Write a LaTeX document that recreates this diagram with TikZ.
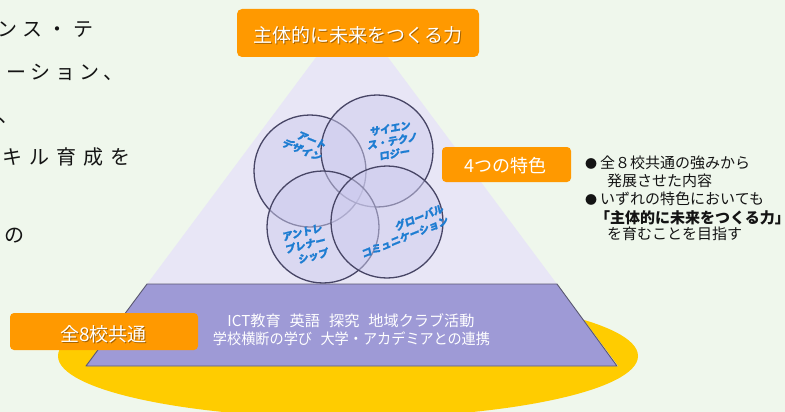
\documentclass[tikz,border=0pt]{standalone}
\usepackage{fontspec}
\setmainfont{Noto Sans CJK JP}
\newfontfamily\circfont{Noto Sans CJK JP}[FakeSlant=0.15, FakeBold=1.2]
\definecolor{bg}{RGB}{239,247,236}
\definecolor{orng}{RGB}{255,153,0}
\definecolor{pyr}{RGB}{232,230,246}
\definecolor{basecol}{RGB}{158,154,214}
\definecolor{edgecol}{RGB}{90,88,112}
\definecolor{ylw}{RGB}{255,204,0}
\definecolor{glassin}{RGB}{206,204,238}
\definecolor{glassout}{RGB}{128,124,192}
\definecolor{circline}{RGB}{72,70,102}
\definecolor{circtext}{RGB}{30,125,210}
\definecolor{txt}{RGB}{20,20,20}
\pgfdeclareradialshading{glass}{\pgfpointorigin}{color(0bp)=(glassin); color(32bp)=(glassin); color(49bp)=(glassout); color(50bp)=(glassout); color(100bp)=(glassout)}
\tikzset{
  obox/.style={fill=orng, rounded corners=5pt, inner sep=0pt, draw=none},
  ring/.style={circle, minimum size=112pt, inner sep=0pt, shading=glass, fill opacity=0.5,
               draw=circline, draw opacity=1, line width=1.3pt},
  clabel/.style={inner sep=0pt, text=circtext, font=\circfont\bfseries\fontsize{10.3}{12.8}\selectfont},
  wtext/.style={inner sep=0pt, text=white},
  shadowtext/.style={inner sep=0pt, text=black, text opacity=0.35},
  lefttext/.style={inner sep=0pt, anchor=base west, text=txt, font=\fontsize{20}{20}\selectfont},
  righttext/.style={inner sep=0pt, anchor=base west, text=txt, font=\fontsize{15}{15}\selectfont},
  basetext/.style={inner sep=0pt, text=white, font=\fontsize{15}{15}\selectfont}
}
\newcommand{\bulletmark}{{\fontsize{12}{12}\selectfont ●}}
\begin{document}
\begin{tikzpicture}[x=1pt,y=-1pt]
\fill[bg] (0,0) rectangle (785,412);
\useasboundingbox (0,0) rectangle (785,412);

% left cropped text
\node[lefttext] (l1) at (-3,36.6) {\addfontfeature{LetterSpace=27.5}ンス・テ};
\node[lefttext] (l2) at (6.5,79.6) {\addfontfeature{LetterSpace=22.5}ーション、};
\node[lefttext] (l3) at (-2,122.6) {、};
\node[lefttext] (l4) at (2.5,164.6) {\addfontfeature{LetterSpace=35}キル育成を};
\node[lefttext] (l5) at (4,242.6) {の};

% yellow ellipse
\fill[ylw] (348,356) ellipse [x radius=290pt, y radius=62pt];

% pyramid
\fill[pyr] (352,9) -- (618,366) -- (86,366) -- cycle;
\filldraw[fill=basecol, draw=edgecol, line width=0.9pt, line join=round]
  (147,284) -- (557,284) -- (617,366) -- (86,366) -- cycle;

% circles
\node[ring, shade] (art) at (310,171) {};
\node[ring, shade] (sci) at (377,151) {};
\node[ring, shade] (ent) at (323,227) {};
\node[ring, shade] (glo) at (387,222) {};

\node[clabel, rotate=-22, align=right] (artl) at (304,144) {アート\\デザイン};
\node[clabel, rotate=10, align=center] (scil) at (392,141) {サイエン\\ス・テクノ\\ロジー};
\node[clabel, rotate=14, align=center] (entl) at (305,245) {アントレ\\プレナー\\\hspace*{10pt}シップ};
\node[clabel, rotate=22, align=right] (glol) at (402,231) {グローバル\\コミュニケーション};

% base text
\node[basetext] (b1) at (351,321) {\resizebox{247pt}{\height}{ICT教育\hspace{0.6em}英語\hspace{0.6em}探究\hspace{0.6em}地域クラブ活動}};
\node[basetext] (b2) at (351.5,338.5) {\resizebox{277pt}{\height}{学校横断の学び\hspace{0.6em}大学・アカデミアとの連携}};

% orange boxes
\node[obox, minimum width=242pt, minimum height=48pt] (topbox) at (358,33) {};
\node[shadowtext, font=\fontsize{19}{19}\selectfont] (topsh) at (359.2,36.2) {主体的に未来をつくる力};
\node[wtext, font=\fontsize{19}{19}\selectfont] (topt) at (358,35) {主体的に未来をつくる力};

\node[obox, rounded corners=4pt, minimum width=188pt, minimum height=37pt] (allbox) at (104,331.5) {};
\node[shadowtext, font=\fontsize{19}{19}\selectfont] (allsh) at (104.7,335.7) {全8校共通};
\node[wtext, font=\fontsize{19}{19}\selectfont] (allt) at (103.5,334.5) {全8校共通};

\node[obox, rounded corners=4pt, minimum width=129pt, minimum height=35pt] (featbox) at (506.5,164.5) {};
\node[wtext, font=\fontsize{18}{18}\selectfont] (featt) at (505.5,165.5) {4つの特色};

% right text
\node[righttext] (r1) at (585,168.2) {\bulletmark\hspace{3pt}全８校共通の強みから};
\node[righttext] (r2) at (607,186.7) {発展させた内容};
\node[righttext] (r3) at (585,204.7) {\bulletmark\hspace{3pt}いずれの特色においても};
\node[righttext, font=\fontsize{15}{15}\selectfont\bfseries] (r4) at (595,223.7) {「主体的に未来をつくる力」};
\node[righttext] (r5) at (607,239.7) {を育むことを目指す};
\end{tikzpicture}
\end{document}
